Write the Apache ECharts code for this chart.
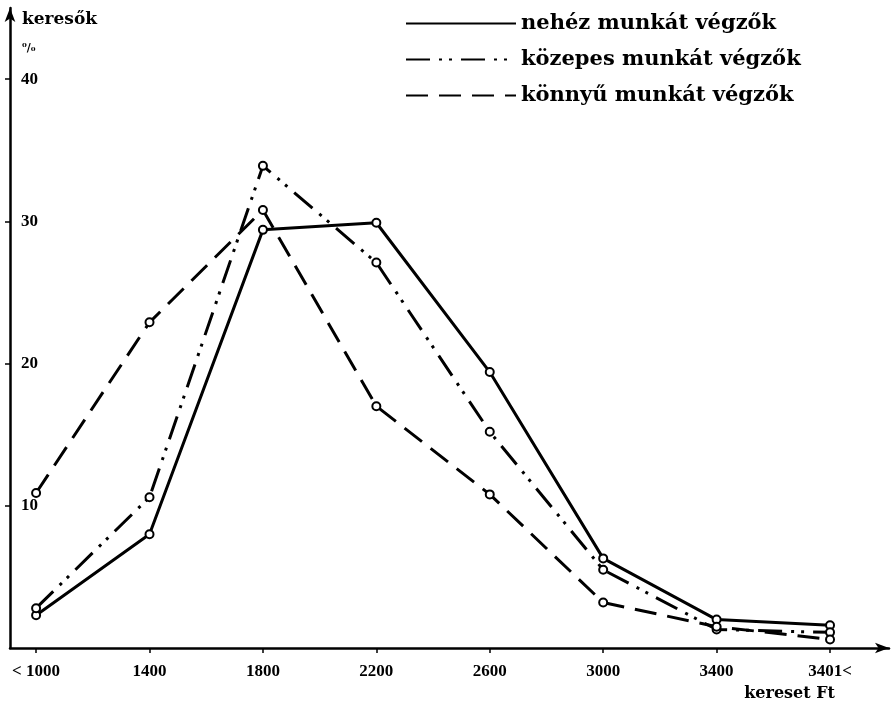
<!DOCTYPE html>
<html>
<head>
<meta charset="utf-8">
<script src="https://cdn.jsdelivr.net/npm/echarts@6/dist/echarts.min.js"></script>
<style>
  html, body { margin: 0; padding: 0; background: #fff; }
  #chart { width: 891px; height: 713px; }
</style>
</head>
<body>
<div id="chart"></div>
<script>
// kereset kategóriák (x tengely)
var categories = ['< 1000', '1400', '1800', '2200', '2600', '3000', '3400', '3401<'];
var yTicks = [10, 20, 30, 40];

// keresők %-ban
var nehez = [2.3, 8.0, 29.4, 29.9, 19.4, 6.3, 2.0, 1.6];
var kozepes = [2.8, 10.6, 33.9, 27.1, 15.2, 5.5, 1.3, 1.1];
var konnyu = [10.9, 22.9, 30.8, 17.0, 10.8, 3.2, 1.5, 0.6];

var font = 'DejaVu Serif';
var numFont = 'Liberation Serif';

function pairs(arr) {
  return arr.map(function (v, i) { return [i, v]; });
}
var catIdx = categories.map(function (c, i) { return i; });

function lineSeries(name, data, dash) {
  return {
    name: name,
    type: 'line',
    data: pairs(data),
    symbol: 'emptyCircle',
    symbolSize: 8,
    itemStyle: { color: '#000', borderColor: '#000', borderWidth: 1.5 },
    lineStyle: { color: '#000', width: 3, type: dash },
    emphasis: { disabled: true }
  };
}

var chart = echarts.init(document.getElementById('chart'));
chart.setOption({
  animation: false,
  backgroundColor: '#fff',
  textStyle: { fontFamily: font, color: '#000' },
  grid: { left: 10, right: 2, top: 8, bottom: 65 },
  legend: {
    orient: 'vertical',
    left: 400,
    top: 8,
    itemWidth: 110,
    itemHeight: 14,
    itemGap: 15,
    itemStyle: { opacity: 0 },
    textStyle: { fontFamily: font, fontSize: 21, fontWeight: 'bold', color: '#000' },
    data: ['nehéz munkát végzők', 'közepes munkát végzők', 'könnyű munkát végzők']
  },
  xAxis: {
    type: 'value',
    min: -0.23,
    max: 7.52,
    name: 'kereset Ft',
    nameLocation: 'end',
    nameGap: -54,
    nameTextStyle: { fontFamily: font, fontSize: 16, fontWeight: 'bold', align: 'right', verticalAlign: 'top', padding: [38, 0, 0, 0] },
    splitLine: { show: false },
    axisLine: { onZero: false, lineStyle: { color: '#000', width: 2.5 }, symbol: ['none', 'arrow'], symbolSize: [8, 14] },
    axisTick: { show: true, customValues: catIdx, length: 5, lineStyle: { color: '#000', width: 1.5 } },
    axisLabel: {
      customValues: catIdx,
      margin: 15,
      fontFamily: numFont,
      fontSize: 17,
      fontWeight: 'bold',
      color: '#000',
      formatter: function (v) { return categories[Math.round(v)]; }
    }
  },
  yAxis: {
    type: 'value',
    min: 0,
    max: 45,
    name: 'keresők\n{p|⁰/₀}',
    nameLocation: 'end',
    nameGap: 2,
    nameTextStyle: {
      fontFamily: font, fontSize: 17, fontWeight: 'bold', align: 'left', verticalAlign: 'top',
      padding: [0, 0, 0, 12], lineHeight: 28,
      rich: { p: { fontFamily: font, fontSize: 11, padding: [0, 0, 0, 0] } }
    },
    splitLine: { show: false },
    axisLine: { onZero: false, lineStyle: { color: '#000', width: 2.5 }, symbol: ['none', 'arrow'], symbolSize: [8, 14] },
    axisTick: { show: true, customValues: yTicks, length: 5, lineStyle: { color: '#000', width: 1.5 } },
    axisLabel: {
      customValues: yTicks,
      inside: true,
      margin: 11,
      fontFamily: numFont,
      fontSize: 17,
      fontWeight: 'bold',
      color: '#000'
    }
  },
  series: [
    lineSeries('nehéz munkát végzők', nehez, 'solid'),
    lineSeries('közepes munkát végzők', kozepes, [24, 9, 3, 7, 3, 9]),
    lineSeries('könnyű munkát végzők', konnyu, [22, 11])
  ]
});
</script>
</body>
</html>
